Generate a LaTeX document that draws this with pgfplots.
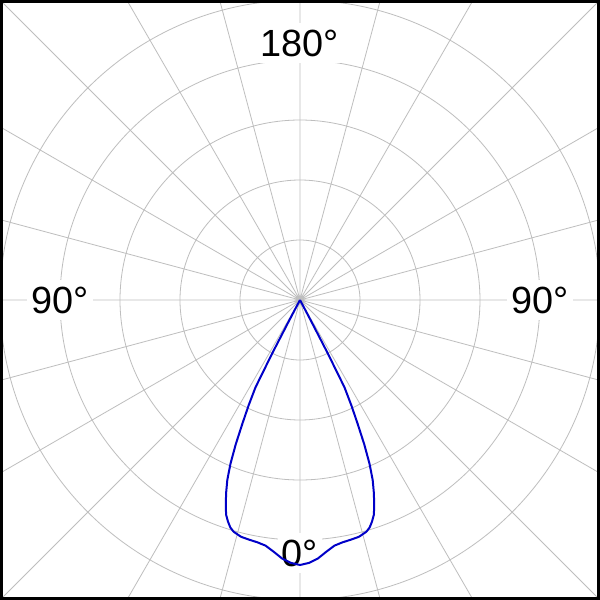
\documentclass[border=0pt]{standalone}
\usepackage{fontspec}
\setmainfont{Liberation Sans}
\usepackage{pgfplots}
\pgfplotsset{compat=1.18}
\usepgfplotslibrary{polar}
\definecolor{curveblue}{RGB}{0,0,200}
\definecolor{gridgray}{RGB}{190,190,190}

% angle (pgf degrees, 270 = 0 deg of the diagram, pointing down), intensity
\pgfplotstableread{
t r
240 0
242 5
242.2 25
242.5 60
243 98
244 117
245 136
246 158
247 178
248 194
249 206
250 217
251 227
252 233
253 238
254 241
256 244
258 245
260 246
262 248
264 253
266 259
268 263
270 265
272 263
274 259
276 253
278 248
280 246
282 245
284 244
286 241
287 238
288 233
289 227
290 217
291 206
292 194
293 178
294 158
295 136
296 117
297 98
297.5 60
297.8 25
298 5
300 0
}\lumdata

\tikzset{anglelabel/.style={font=\fontsize{38}{40}\selectfont, fill=white, inner xsep=4bp, inner ysep=7bp}}

\begin{document}
\begin{tikzpicture}
\useasboundingbox (-300bp,-300bp) rectangle (300bp,300bp);
\begin{scope}
\clip (-300bp,-300bp) rectangle (300bp,300bp);
\fill[white] (-300bp,-300bp) rectangle (300bp,300bp);
\begin{polaraxis}[
    at={(0,0)}, anchor=center,
    scale only axis,
    width=850bp, height=850bp,
    xmin=0, xmax=360,
    ymin=0, ymax=425,
    xtick={0,15,...,345},
    ytick={60,120,180,240,300},
    xticklabels={}, yticklabels={},
    grid=major,
    major grid style={gridgray, line width=0.8bp},
    axis line style={draw=none},
    tick style={draw=none},
    clip=false,
]
    \node[anglelabel] at (axis cs:90,257) {180°};
    \node[anglelabel] at (axis cs:180,240) {90°};
    \node[anglelabel] at (axis cs:0,240) {90°};
    \node[anglelabel] at (axis cs:270,253) {0°};
    \addplot[curveblue, line width=2bp, no marks] table[x=t, y=r] {\lumdata};
\end{polaraxis}
\end{scope}
\draw[black, line width=2.6bp] (-298.7bp,-298.7bp) rectangle (298.7bp,298.7bp);
\end{tikzpicture}
\end{document}
